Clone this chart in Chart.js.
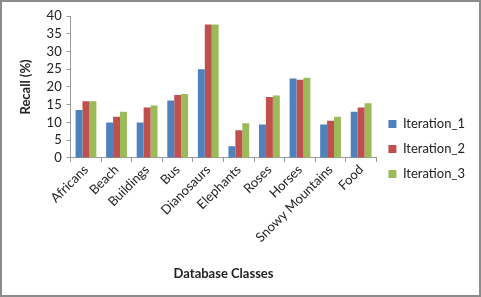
<!DOCTYPE html>
<html>
<head>
<meta charset="utf-8">
<script src="https://cdn.jsdelivr.net/npm/chart.js@4"></script>
<style>
  html, body { margin: 0; padding: 0; background: #fff; }
  #wrap { width: 481px; height: 297px; box-sizing: border-box; border: 2px solid #8c8c8c; position: relative; }
  canvas { display: block; }
</style>
</head>
<body>
<div id="wrap"><canvas id="recallChart" width="477" height="293"></canvas></div>
<script>
const categories = ['Africans', 'Beach', 'Buildings', 'Bus', 'Dianosaurs', 'Elephants', 'Roses', 'Horses', 'Snowy Mountains', 'Food'];
const iteration1 = [13.5, 10, 10, 16.2, 25, 3.3, 9.4, 22.4, 9.4, 13];
const iteration2 = [16, 11.6, 14.2, 17.7, 37.6, 7.8, 17.2, 22, 10.5, 14.2];
const iteration3 = [16, 13, 14.8, 18, 37.6, 9.8, 17.6, 22.6, 11.6, 15.4];

const ctx = document.getElementById('recallChart');
const font = "Lato, 'Open Sans', sans-serif";

new Chart(ctx, {
    type: 'bar',
    data: {
        labels: categories,
        datasets: [
            { label: 'Iteration_1', data: iteration1, backgroundColor: '#4F81BD' },
            { label: 'Iteration_2', data: iteration2, backgroundColor: '#C0504D' },
            { label: 'Iteration_3', data: iteration3, backgroundColor: '#9BBB59' }
        ]
    },
    options: {
        responsive: false,
        animation: false,
        categoryPercentage: 0.68,
        barPercentage: 1.0,
        layout: { padding: { top: 14, left: 16, right: 4, bottom: 13 } },
        plugins: {
            legend: {
                position: 'right',
                labels: {
                    color: '#222',
                    font: { family: font, size: 13 },
                    boxWidth: 8,
                    boxHeight: 8,
                    padding: 12
                }
            },
            tooltip: { enabled: false }
        },
        scales: {
            x: {
                grid: { display: true, drawOnChartArea: false, offset: true, tickLength: 4, color: '#999' },
                border: { color: '#999' },
                ticks: {
                    color: '#222',
                    font: { family: font, size: 13 },
                    minRotation: 45,
                    maxRotation: 45,
                    padding: 0
                },
                title: {
                    display: true,
                    text: 'Database Classes',
                    color: '#222',
                    font: { family: font, size: 13, weight: 'bold' },
                    padding: { top: 21, bottom: 0 }
                }
            },
            y: {
                min: 0,
                max: 40,
                grid: { display: true, drawOnChartArea: false, tickLength: 4, color: '#999' },
                border: { color: '#999' },
                ticks: {
                    stepSize: 5,
                    autoSkip: false,
                    color: '#222',
                    font: { family: font, size: 13, lineHeight: 1 },
                    padding: 5
                },
                title: {
                    display: true,
                    text: 'Recall (%)',
                    color: '#222',
                    font: { family: font, size: 13, weight: 'bold' },
                    padding: { top: 0, bottom: 8 }
                }
            }
        }
    }
});
</script>
</body>
</html>
